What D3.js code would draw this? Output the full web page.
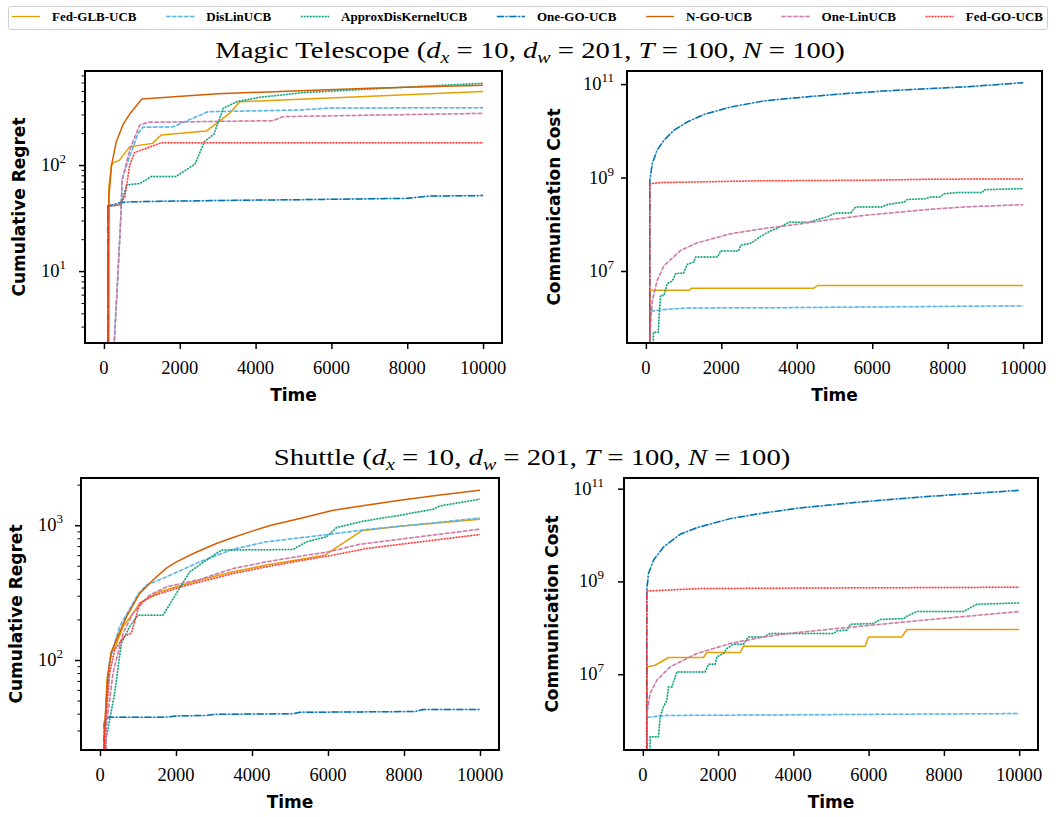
<!DOCTYPE html>
<html>
<head>
<meta charset="utf-8">
<script src="https://cdn.jsdelivr.net/npm/d3@7"></script>
<style>
  body { margin: 0; background: #fff; }
  text { fill: #000; }
</style>
</head>
<body>
<svg id="fig" width="1056" height="817"></svg>
<script>
// ---- methods / legend ----
const methods = ['Fed-GLB-UCB', 'DisLinUCB', 'ApproxDisKernelUCB', 'One-GO-UCB', 'N-GO-UCB', 'One-LinUCB', 'Fed-GO-UCB'];
const methodColors = ['#E69F00', '#56B4E9', '#009E73', '#0072B2', '#D55E00', '#CC79A7', '#FF3030'];
const methodDash = ['', '4,2', '1.5,1.5', '7,2,1.5,2', '', '4,2', '1.5,1.5'];
const timeTicks = [0, 2000, 4000, 6000, 8000, 10000];

// ---- Magic Telescope: cumulative regret ----
const magicRegretFedGlb = [[100, 0.001], [130, 62], [200, 100], [280, 107], [400, 110], [680, 149], [1280, 160], [1510, 192], [2700, 209], [3320, 308], [3580, 395], [5160, 417], [10000, 493]];
const magicRegretDisLin = [[250, 1.5], [440, 30], [485, 75], [600, 100], [900, 199], [1030, 227], [1820, 229], [2740, 318], [5160, 330], [6000, 345], [10000, 347]];
const magicRegretKernel = [[100, 0.001], [110, 41], [450, 42], [600, 65], [950, 67], [1250, 78], [1900, 78], [2400, 102], [2650, 166], [2900, 196], [3150, 343], [3500, 395], [4100, 435], [4700, 458], [5200, 481], [7000, 520], [10000, 590]];
const magicRegretOneGo = [[100, 0.001], [105, 41], [400, 44], [700, 45], [1500, 45.5], [3500, 46.5], [6000, 47.5], [8000, 48.5], [8600, 51], [10000, 51.5]];
const magicRegretNGo = [[100, 0.001], [130, 50], [200, 100], [325, 165], [500, 240], [700, 310], [1000, 420], [3000, 470], [5000, 500], [7000, 530], [10000, 565]];
const magicRegretOneLin = [[250, 1.5], [430, 24], [480, 72], [680, 139], [940, 238], [1160, 253], [4460, 262], [4720, 286], [7000, 295], [10000, 307]];
const magicRegretFedGo = [[100, 0.001], [105, 41], [400, 42], [550, 50], [680, 100], [810, 131], [1120, 144], [1510, 162], [10000, 162]];

// ---- Magic Telescope: communication cost (N-GO-UCB not shown) ----
const magicCostFedGlb = [[100, 1], [105, 3.9e6], [1150, 3.9e6], [1200, 4.3e6], [4450, 4.3e6], [4550, 4.9e6], [10000, 4.9e6]];
const magicCostDisLin = [[100, 1], [105, 1.38e6], [500, 1.5e6], [1100, 1.62e6], [4000, 1.65e6], [10000, 1.8e6]];
const magicCostKernel = [[150, 1], [200, 4.9e5], [330, 4.9e5], [350, 1.03e6], [390, 3.0e6], [480, 3.0e6], [566, 5.4e6], [700, 6.1e6], [790, 8.8e6], [1000, 9.1e6], [1100, 1.39e7], [1270, 1.56e7], [1320, 2.0e7], [1900, 2.0e7], [1980, 2.68e7], [2460, 2.68e7], [2510, 3.55e7], [2800, 3.98e7], [3040, 5.5e7], [3300, 7.2e7], [3570, 8.8e7], [3790, 1.1e8], [4300, 1.1e8], [4550, 1.26e8], [4800, 1.44e8], [5030, 1.75e8], [5430, 1.75e8], [5560, 2.35e8], [6250, 2.35e8], [6400, 2.64e8], [6850, 3.0e8], [6930, 3.4e8], [7380, 3.5e8], [7550, 3.85e8], [7800, 3.85e8], [7900, 4.5e8], [8300, 4.8e8], [8920, 4.8e8], [8970, 5.5e8], [10000, 5.8e8]];
const magicCostOneGo = [[100, 1], [105, 8.7e8], [170, 2.0e9], [300, 3.9e9], [480, 6.3e9], [740, 1.02e10], [1100, 1.55e10], [1540, 2.24e10], [2250, 3.24e10], [3130, 4.37e10], [4010, 5.13e10], [5340, 6.3e10], [6670, 7.4e10], [8430, 8.7e10], [10000, 1.07e11]];
const magicCostNGo = [];
const magicCostOneLin = [[100, 1], [110, 5e5], [170, 2.3e6], [300, 6.3e6], [480, 1.3e7], [920, 2.75e7], [1360, 4e7], [2250, 6.3e7], [3130, 8.1e7], [4010, 1.0e8], [4900, 1.26e8], [5780, 1.55e8], [6670, 1.8e8], [7550, 2.1e8], [8430, 2.35e8], [10000, 2.63e8]];
const magicCostFedGo = [[100, 1], [105, 7.4e8], [400, 7.8e8], [3000, 8.5e8], [6000, 8.8e8], [7500, 9.2e8], [10000, 9.36e8]];

// ---- Shuttle: cumulative regret ----
const shuttleRegretFedGlb = [[100, 1], [110, 25], [184, 71], [298, 115], [386, 122], [606, 177], [869, 222], [1045, 263], [1572, 321], [2625, 392], [3503, 451], [4381, 506], [5259, 557], [5918, 600], [6883, 908], [7893, 984], [10000, 1108]];
const shuttleRegretDisLin = [[100, 1], [120, 28], [255, 100], [518, 177], [1001, 308], [1220, 360], [1747, 414], [2625, 535], [3503, 664], [4381, 753], [5259, 806], [6005, 853], [7015, 929], [8771, 1040], [10000, 1133]];
const shuttleRegretKernel = [[100, 1], [150, 25], [255, 36], [386, 57], [562, 133], [781, 177], [1001, 215], [1659, 215], [2011, 312], [2362, 451], [2801, 550], [3196, 654], [5083, 661], [5435, 753], [5962, 820], [6225, 961], [6927, 1071], [7893, 1186], [8771, 1314], [8947, 1390], [10000, 1559]];
const shuttleRegretOneGo = [[100, 1], [110, 35], [230, 37.6], [1700, 37.6], [2011, 38.5], [2800, 38.8], [2976, 39.5], [5100, 40], [5259, 40.9], [8300, 41.5], [8508, 43], [10000, 43]];
const shuttleRegretNGo = [[100, 1], [120, 30], [200, 75], [300, 115], [430, 141], [694, 209], [1045, 312], [1396, 392], [1747, 480], [2011, 535], [2500, 625], [3064, 731], [3500, 810], [3942, 892], [4500, 1000], [5259, 1120], [6137, 1290], [7000, 1406], [7893, 1530], [9000, 1680], [10000, 1815]];
const shuttleRegretOneLin = [[100, 1], [167, 32], [342, 80], [606, 158], [869, 222], [1308, 303], [1747, 349], [2625, 396], [3503, 477], [4381, 535], [5259, 589], [6005, 634], [6839, 723], [7893, 788], [10000, 934]];
const shuttleRegretFedGo = [[100, 1], [123, 29], [255, 80], [386, 119], [650, 151], [825, 158], [1045, 263], [1308, 294], [2186, 353], [3503, 438], [4381, 491], [5259, 545], [6137, 600], [7015, 672], [8771, 774], [10000, 853]];

// ---- Shuttle: communication cost (N-GO-UCB not shown) ----
const shuttleCostFedGlb = [[100, 1], [105, 1.44e7], [328, 1.56e7], [682, 2.29e7], [1612, 2.29e7], [1701, 2.93e7], [2586, 2.93e7], [2675, 4.0e7], [5908, 4.0e7], [5996, 6.37e7], [6882, 6.37e7], [7015, 9.2e7], [10000, 9.2e7]];
const shuttleCostDisLin = [[100, 1], [105, 1.17e6], [600, 1.29e6], [4000, 1.33e6], [10000, 1.42e6]];
const shuttleCostKernel = [[150, 1], [195, 4.47e5], [416, 4.47e5], [460, 1.2e6], [549, 1.98e6], [638, 2.75e6], [682, 5.3e6], [771, 5.3e6], [903, 1.12e7], [1656, 1.12e7], [1745, 1.64e7], [1922, 1.64e7], [1966, 2.36e7], [2143, 2.79e7], [2232, 3.57e7], [2409, 4.43e7], [2675, 4.43e7], [2808, 6.37e7], [3206, 6.37e7], [3384, 7.5e7], [5066, 7.5e7], [5155, 8.6e7], [5421, 8.9e7], [5509, 1.19e8], [6129, 1.24e8], [6306, 1.51e8], [6926, 1.58e8], [7015, 1.78e8], [7281, 2.24e8], [8521, 2.24e8], [8875, 3.22e8], [10000, 3.44e8]];
const shuttleCostOneGo = [[100, 1], [105, 6.45e8], [150, 1.48e9], [283, 2.86e9], [549, 5.5e9], [992, 1.04e10], [1435, 1.44e10], [2321, 2.26e10], [3206, 2.99e10], [4092, 3.77e10], [5864, 5.25e10], [7635, 6.84e10], [10000, 9.2e10]];
const shuttleCostNGo = [];
const shuttleCostOneLin = [[100, 1], [106, 1.42e6], [195, 3.84e6], [372, 7.4e6], [726, 1.44e7], [1435, 2.79e7], [2321, 4.58e7], [3206, 6.37e7], [4092, 7.9e7], [5864, 1.1e8], [7635, 1.51e8], [10000, 2.24e8]];
const shuttleCostFedGo = [[100, 1], [105, 6.2e8], [1500, 7.0e8], [5000, 7.25e8], [10000, 7.5e8]];

const svg = d3.select('#fig');
const serif = "'Liberation Serif', 'Times New Roman', serif";
const sans = "'DejaVu Sans', sans-serif";

/* ---------------- legend ---------------- */
svg.append('rect')
  .attr('x', 8.5).attr('y', 6.5).attr('width', 1039).attr('height', 23)
  .attr('rx', 2).attr('fill', '#fff').attr('stroke', '#d0d0d0').attr('stroke-width', 1);

const legendItems = methods.map((m, i) => {
  const g = svg.append('g');
  const t = g.append('text').attr('x', 40).attr('y', 21)
    .style('font-family', serif).style('font-weight', 'bold').style('font-size', '13px')
    .text(m);
  if (methodDash[i]) {
    g.append('line').attr('x1', 0).attr('x2', 28).attr('y1', 16.5).attr('y2', 16.5)
      .attr('stroke', methodColors[i]).attr('stroke-opacity', 0.35).attr('stroke-width', 1.3);
  }
  g.append('line').attr('x1', 0).attr('x2', 28).attr('y1', 16.5).attr('y2', 16.5)
    .attr('stroke', methodColors[i]).attr('stroke-width', 1.3)
    .attr('stroke-dasharray', methodDash[i] || null);
  return { g, w: 40 + t.node().getComputedTextLength() };
});
// spread items across the box
const legendGap = (1043 - 12 - d3.sum(legendItems, d => d.w)) / (legendItems.length - 1);
let lx = 12;
legendItems.forEach(d => {
  d.g.attr('transform', `translate(${lx},0)`);
  lx += d.w + legendGap;
});

/* ---------------- titles ---------------- */
function title(y, name) {
  const t = svg.append('text').attr('x', 0).attr('y', 0).attr('text-anchor', 'middle')
    .style('font-family', serif).style('font-size', '23px');
  const parts = [
    [name + ' (', ''], ['d', 'i'], ['x', 's'], [' = 10, ', ''], ['d', 'i'], ['w', 's'],
    [' = 201, ', ''], ['T', 'i'], [' = 100, ', ''], ['N', 'i'], [' = 100)', '']
  ];
  let shifted = false;
  parts.forEach(([s, k]) => {
    const sp = t.append('tspan').text(s);
    if (k === 'i') sp.style('font-style', 'italic');
    if (k === 's') { sp.style('font-style', 'italic').style('font-size', '16px').attr('dy', 5); shifted = true; }
    else if (shifted) { sp.attr('dy', -5); shifted = false; }
  });
  return t;
}
const title1 = title(58, 'Magic Telescope');
const title2 = title(465, 'Shuttle');
// the figure text is drawn horizontally stretched
const stretch = 630 / title1.node().getBBox().width;
title1.attr('transform', `translate(530,58) scale(${stretch},1)`);
title2.attr('transform', `translate(532,465) scale(${stretch},1)`);

/* ---------------- panels ---------------- */
const panels = [
  { x: 85, y: 71, w: 417, h: 272, yDomain: [2.1, 770], major: [10, 100], minorDecades: [0, 1, 2],
    label: 'Cumulative Regret', labelX: 24.5, tickRight: 66, xBase: 374, timeBase: 401,
    series: [magicRegretFedGlb, magicRegretDisLin, magicRegretKernel, magicRegretOneGo, magicRegretNGo, magicRegretOneLin, magicRegretFedGo] },
  { x: 627, y: 71, w: 415, h: 272, yDomain: [Math.pow(10, 5.46), Math.pow(10, 11.28)], major: [1e7, 1e9, 1e11], minorDecades: [],
    label: 'Communication Cost', labelX: 560, tickRight: 614, xBase: 374, timeBase: 401,
    series: [magicCostFedGlb, magicCostDisLin, magicCostKernel, magicCostOneGo, magicCostNGo, magicCostOneLin, magicCostFedGo] },
  { x: 81, y: 478, w: 418, h: 272, yDomain: [21.5, 2240], major: [100, 1000], minorDecades: [1, 2, 3],
    label: 'Cumulative Regret', labelX: 21.5, tickRight: 63, xBase: 781, timeBase: 808,
    series: [shuttleRegretFedGlb, shuttleRegretDisLin, shuttleRegretKernel, shuttleRegretOneGo, shuttleRegretNGo, shuttleRegretOneLin, shuttleRegretFedGo] },
  { x: 624, y: 478, w: 414, h: 272, yDomain: [Math.pow(10, 5.366), Math.pow(10, 11.23)], major: [1e7, 1e9, 1e11], minorDecades: [],
    label: 'Communication Cost', labelX: 558, tickRight: 604, xBase: 781, timeBase: 808,
    series: [shuttleCostFedGlb, shuttleCostDisLin, shuttleCostKernel, shuttleCostOneGo, shuttleCostNGo, shuttleCostOneLin, shuttleCostFedGo] }
];

panels.forEach((p, pi) => {
  const x = d3.scaleLinear().domain([-500, 10500]).range([p.x, p.x + p.w]);
  const y = d3.scaleLog().domain(p.yDomain).range([p.y + p.h, p.y]);

  const clipId = 'clip' + pi;
  svg.append('clipPath').attr('id', clipId).append('rect')
    .attr('x', p.x).attr('y', p.y).attr('width', p.w).attr('height', p.h);

  const line = d3.line().x(d => x(d[0])).y(d => y(d[1]));
  const lines = svg.append('g').attr('clip-path', `url(#${clipId})`);
  p.series.forEach((s, i) => {
    if (!s.length) return;
    if (methodDash[i]) {
      lines.append('path').datum(s).attr('d', line).attr('fill', 'none')
        .attr('stroke', methodColors[i]).attr('stroke-opacity', 0.35).attr('stroke-width', 1.5);
    }
    lines.append('path').datum(s).attr('d', line).attr('fill', 'none')
      .attr('stroke', methodColors[i]).attr('stroke-width', 1.5)
      .attr('stroke-dasharray', methodDash[i] || null)
      .attr('stroke-linejoin', 'round');
  });

  // x axis
  const xAxis = svg.append('g').attr('transform', `translate(0,${p.y + p.h})`)
    .call(d3.axisBottom(x).tickValues(timeTicks).tickSize(6).tickFormat(''));
  xAxis.select('.domain').remove();
  xAxis.selectAll('line').attr('stroke-width', 1.5);
  timeTicks.forEach(t => {
    svg.append('text').attr('x', x(t)).attr('y', p.xBase).attr('text-anchor', 'middle')
      .style('font-family', serif).style('font-size', '18.5px').text(t);
  });

  // y axis: major ticks with 10^k labels
  const yAxis = svg.append('g').attr('transform', `translate(${p.x},0)`)
    .call(d3.axisLeft(y).tickValues(p.major).tickSize(6).tickFormat(''));
  yAxis.select('.domain').remove();
  yAxis.selectAll('line').attr('stroke-width', 1.5);
  p.major.forEach(v => {
    const t = svg.append('text').attr('x', p.tickRight).attr('y', y(v) + 6).attr('text-anchor', 'end')
      .style('font-family', serif).style('font-size', '18.5px');
    t.append('tspan').text('10');
    t.append('tspan').attr('dy', -8).style('font-size', '13px').text(Math.round(Math.log10(v)));
  });

  // minor ticks
  const minors = [];
  p.minorDecades.forEach(k => d3.range(2, 10).forEach(m => {
    const v = m * Math.pow(10, k);
    if (v > p.yDomain[0] && v < p.yDomain[1]) minors.push(v);
  }));
  if (minors.length) {
    const yMinor = svg.append('g').attr('transform', `translate(${p.x},0)`)
      .call(d3.axisLeft(y).tickValues(minors).tickSize(3.5).tickFormat(''));
    yMinor.select('.domain').remove();
    yMinor.selectAll('line').attr('stroke-width', 1);
  }

  // frame
  svg.append('rect').attr('x', p.x).attr('y', p.y).attr('width', p.w).attr('height', p.h)
    .attr('fill', 'none').attr('stroke', '#000').attr('stroke-width', 2);

  // axis titles
  svg.append('text').attr('x', p.x + p.w / 2).attr('y', p.timeBase).attr('text-anchor', 'middle')
    .style('font-family', sans).style('font-weight', 'bold').style('font-size', '17px').text('Time');
  svg.append('text').attr('transform', `translate(${p.labelX},${p.y + p.h / 2}) rotate(-90)`)
    .attr('text-anchor', 'middle')
    .style('font-family', sans).style('font-weight', 'bold').style('font-size', '17px').text(p.label);
});
</script>
</body>
</html>
